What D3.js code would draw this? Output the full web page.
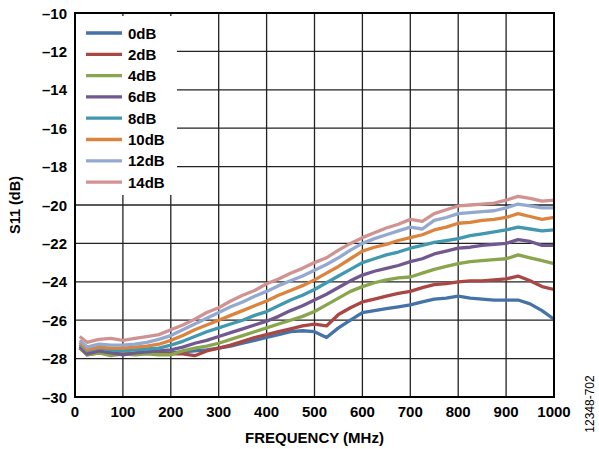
<!DOCTYPE html>
<html>
<head>
<meta charset="utf-8">
<script src="https://cdn.jsdelivr.net/npm/d3@7"></script>
<style>
  body { margin: 0; background: #fff; }
  svg { display: block; font-family: "Liberation Sans", Arial, sans-serif; }
</style>
</head>
<body>
<svg id="chart" width="599" height="449"></svg>
<script>
// frequency points (MHz)
var freq = [10,25,50,75,100,125,150,175,200,225,250,275,300,325,350,375,400,425,450,475,500,525,550,575,600,625,650,675,700,725,750,775,800,825,850,875,900,925,950,975,1000];

// S11 (dB) per gain setting
var s0dB  = [-27.45,-27.75,-27.7,-27.7,-27.7,-27.75,-27.7,-27.7,-27.7,-27.65,-27.6,-27.55,-27.45,-27.35,-27.2,-27.05,-26.9,-26.75,-26.6,-26.55,-26.6,-26.9,-26.4,-26.0,-25.6,-25.5,-25.4,-25.3,-25.2,-25.05,-24.9,-24.85,-24.75,-24.85,-24.9,-24.95,-24.95,-24.95,-25.15,-25.5,-25.95];
var s2dB  = [-27.45,-27.8,-27.7,-27.75,-27.7,-27.75,-27.7,-27.75,-27.75,-27.75,-27.85,-27.6,-27.45,-27.3,-27.1,-26.9,-26.75,-26.6,-26.45,-26.3,-26.2,-26.3,-25.7,-25.35,-25.05,-24.9,-24.75,-24.6,-24.5,-24.3,-24.15,-24.1,-24.0,-23.95,-23.95,-23.9,-23.85,-23.7,-23.95,-24.25,-24.4];
var s4dB  = [-27.4,-27.8,-27.7,-27.85,-27.75,-27.8,-27.75,-27.8,-27.8,-27.6,-27.45,-27.35,-27.2,-27.0,-26.8,-26.6,-26.4,-26.2,-26.0,-25.8,-25.55,-25.2,-24.85,-24.5,-24.25,-24.05,-23.9,-23.8,-23.75,-23.55,-23.35,-23.2,-23.05,-22.95,-22.9,-22.85,-22.8,-22.6,-22.75,-22.9,-23.05];
var s6dB  = [-27.35,-27.75,-27.6,-27.7,-27.8,-27.7,-27.65,-27.6,-27.55,-27.4,-27.2,-27.05,-26.85,-26.65,-26.45,-26.25,-26.05,-25.8,-25.5,-25.25,-24.95,-24.65,-24.3,-23.95,-23.65,-23.45,-23.3,-23.15,-22.95,-22.8,-22.55,-22.4,-22.25,-22.2,-22.1,-22.05,-22.0,-21.8,-21.9,-22.1,-22.1];
var s8dB  = [-27.25,-27.6,-27.45,-27.55,-27.6,-27.55,-27.5,-27.45,-27.3,-27.1,-26.85,-26.6,-26.4,-26.2,-26.0,-25.75,-25.55,-25.25,-24.95,-24.7,-24.4,-24.05,-23.7,-23.35,-23.0,-22.8,-22.6,-22.45,-22.25,-22.1,-21.95,-21.85,-21.75,-21.6,-21.5,-21.4,-21.3,-21.15,-21.25,-21.35,-21.3];
var s10dB = [-27.15,-27.55,-27.4,-27.45,-27.45,-27.4,-27.35,-27.25,-27.05,-26.8,-26.5,-26.25,-26.0,-25.75,-25.5,-25.25,-25.0,-24.7,-24.45,-24.2,-23.9,-23.55,-23.2,-22.8,-22.4,-22.2,-22.05,-21.85,-21.7,-21.55,-21.3,-21.15,-20.95,-20.9,-20.8,-20.75,-20.65,-20.45,-20.6,-20.75,-20.65];
var s12dB = [-27.05,-27.4,-27.25,-27.3,-27.3,-27.25,-27.15,-27.0,-26.8,-26.5,-26.2,-25.9,-25.6,-25.3,-25.05,-24.75,-24.5,-24.2,-23.95,-23.7,-23.4,-23.1,-22.75,-22.35,-22.0,-21.75,-21.55,-21.35,-21.15,-21.25,-20.8,-20.65,-20.45,-20.4,-20.35,-20.3,-20.15,-19.95,-20.05,-20.15,-20.15];
var s14dB = [-26.85,-27.15,-27.0,-26.95,-27.05,-26.95,-26.85,-26.75,-26.5,-26.25,-25.95,-25.6,-25.35,-25.0,-24.7,-24.45,-24.1,-23.85,-23.55,-23.3,-23.0,-22.75,-22.35,-22.0,-21.7,-21.45,-21.2,-21.0,-20.75,-20.85,-20.45,-20.25,-20.05,-20.0,-19.95,-19.9,-19.75,-19.55,-19.65,-19.8,-19.75];

var labels = ['0dB','2dB','4dB','6dB','8dB','10dB','12dB','14dB'];
var colors = ['#4572A7','#AA4643','#89A54E','#71588F','#4198AF','#DB843D','#93A9CF','#D19392'];
var seriesData = [s0dB, s2dB, s4dB, s6dB, s8dB, s10dB, s12dB, s14dB];

var xTicks = [0,100,200,300,400,500,600,700,800,900,1000];
var yTicks = [-10,-12,-14,-16,-18,-20,-22,-24,-26,-28,-30];

var margin = {left: 75, top: 13, right: 45, bottom: 52};
var svg = d3.select('#chart');
var width = 599 - margin.left - margin.right,
    height = 449 - margin.top - margin.bottom;

var x = d3.scaleLinear().domain([0, 1000]).range([0, width]);
var y = d3.scaleLinear().domain([-30, -10]).range([height, 0]);

var g = svg.append('g').attr('transform', 'translate(' + margin.left + ',' + margin.top + ')');

// grid
g.append('g').selectAll('line').data(xTicks).enter().append('line')
  .attr('x1', d => x(d)).attr('x2', d => x(d))
  .attr('y1', 0).attr('y2', height)
  .attr('stroke', '#222').attr('stroke-width', 1.3);
g.append('g').selectAll('line').data(yTicks).enter().append('line')
  .attr('x1', 0).attr('x2', width)
  .attr('y1', d => y(d)).attr('y2', d => y(d))
  .attr('stroke', '#222').attr('stroke-width', 1.3);

// lines
var line = d3.line()
  .x((d, i) => x(freq[i]))
  .y(d => y(d));

g.append('g').selectAll('path').data(seriesData).enter().append('path')
  .attr('d', d => line(d))
  .attr('fill', 'none')
  .attr('stroke', (d, i) => colors[i])
  .attr('stroke-width', 3.3)
  .attr('stroke-linejoin', 'round');

// legend box hides grid behind it
var legend = g.append('g');
legend.append('rect')
  .attr('x', 1).attr('y', 3)
  .attr('width', 101).attr('height', 179)
  .attr('fill', '#fff');

var legItems = legend.selectAll('g.item').data(labels).enter().append('g')
  .attr('class', 'item')
  .attr('transform', (d, i) => 'translate(0,' + (20 + i * 21.3) + ')');
legItems.append('line')
  .attr('x1', 11).attr('x2', 47).attr('y1', 0).attr('y2', 0)
  .attr('stroke', (d, i) => colors[i])
  .attr('stroke-width', 3.3);
legItems.append('text')
  .attr('x', 53).attr('y', 5.5)
  .attr('font-size', 15).attr('font-weight', 'bold')
  .text(d => d);

// frame
g.append('rect')
  .attr('x', 0).attr('y', 0).attr('width', width).attr('height', height)
  .attr('fill', 'none').attr('stroke', '#000').attr('stroke-width', 2);

// tick labels
g.append('g').selectAll('text').data(yTicks).enter().append('text')
  .attr('x', -8).attr('y', d => y(d) + 5.5)
  .attr('text-anchor', 'end')
  .attr('font-size', 15).attr('font-weight', 'bold')
  .text(d => d3.format('d')(d).replace('-', '\u2013').replace('\u2212', '\u2013'));

g.append('g').selectAll('text').data(xTicks).enter().append('text')
  .attr('x', d => x(d)).attr('y', height + 20)
  .attr('text-anchor', 'middle')
  .attr('font-size', 15).attr('font-weight', 'bold')
  .text(d => d);

// axis titles
svg.append('text')
  .attr('x', margin.left + x(500)).attr('y', 443)
  .attr('text-anchor', 'middle')
  .attr('font-size', 15).attr('font-weight', 'bold')
  .text('FREQUENCY (MHz)');

svg.append('text')
  .attr('transform', 'translate(20,' + (margin.top + y(-20)) + ') rotate(-90)')
  .attr('text-anchor', 'middle')
  .attr('font-size', 14.5).attr('font-weight', 'bold')
  .text('S11 (dB)');

svg.append('text')
  .attr('transform', 'translate(594,404) rotate(-90)')
  .attr('text-anchor', 'middle')
  .attr('font-size', 12)
  .text('12348-702');
</script>
</body>
</html>
